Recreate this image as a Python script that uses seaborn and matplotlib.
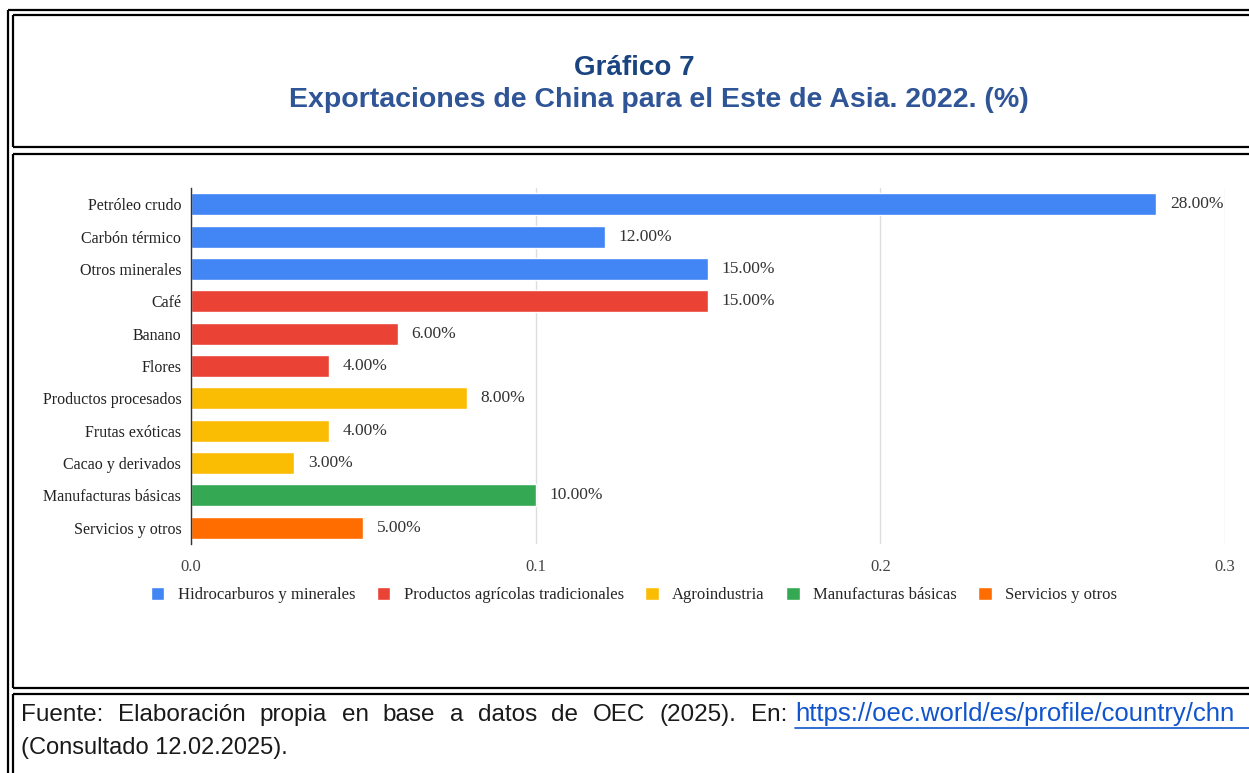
import matplotlib
matplotlib.use("Agg")
import matplotlib.pyplot as plt
from matplotlib.lines import Line2D
import seaborn as sns
import pandas as pd

# Export shares by product (fraction of total) and their groups
productos = [
    "Petróleo crudo", "Carbón térmico", "Otros minerales", "Café", "Banano",
    "Flores", "Productos procesados", "Frutas exóticas", "Cacao y derivados",
    "Manufacturas básicas", "Servicios y otros",
]
participacion = [0.28, 0.12, 0.15, 0.15, 0.06, 0.04, 0.08, 0.04, 0.03, 0.10, 0.05]
grupos = [
    "Hidrocarburos y minerales", "Hidrocarburos y minerales", "Hidrocarburos y minerales",
    "Productos agrícolas tradicionales", "Productos agrícolas tradicionales",
    "Productos agrícolas tradicionales",
    "Agroindustria", "Agroindustria", "Agroindustria",
    "Manufacturas básicas", "Servicios y otros",
]
orden_grupos = [
    "Hidrocarburos y minerales", "Productos agrícolas tradicionales",
    "Agroindustria", "Manufacturas básicas", "Servicios y otros",
]
colores = ["#4285F4", "#EA4335", "#FBBC04", "#34A853", "#FF6D01"]
ticks_x = [0.0, 0.1, 0.2, 0.3]
etiquetas_x = ["0.0", "0.1", "0.2", "0.3"]

titulo_1 = "Gráfico 7"
titulo_2 = "Exportaciones de China para el Este de Asia. 2022. (%)"
fuente = "Fuente:  Elaboración propia en base a datos de OEC (2025). En:"
enlace = "https://oec.world/es/profile/country/chn"
consulta = "(Consultado 12.02.2025)."

df = pd.DataFrame({"producto": productos, "valor": participacion, "grupo": grupos})

sns.set_theme(style="white")
plt.rcParams["font.family"] = ["Liberation Serif", "DejaVu Serif"]

W, H = 1249, 773
fig = plt.figure(figsize=(W / 100, H / 100), dpi=100)


def fx(px):
    return px / W


def fy(py):
    return 1 - py / H


ax = fig.add_axes([fx(191), fy(544), fx(1225) - fx(191), fy(188) - fy(544)])

sns.barplot(
    data=df, y="producto", x="valor", hue="grupo", order=productos,
    hue_order=orden_grupos, palette=dict(zip(orden_grupos, colores)),
    dodge=False, width=0.68, ax=ax, saturation=1,
)

ax.set_xlim(0, 0.3)
ax.set_xticks(ticks_x)
ax.set_xticklabels(etiquetas_x, fontsize=12, color="#444444")
ax.tick_params(axis="x", length=0, pad=11)
ax.tick_params(axis="y", length=0, pad=7, labelsize=11.5, labelcolor="#222222")
ax.set_xlabel("")
ax.set_ylabel("")
ax.grid(axis="x", color="#DDDDDD", linewidth=1)
ax.set_axisbelow(True)
for s in ["top", "right", "bottom"]:
    ax.spines[s].set_visible(False)
ax.spines["left"].set_color("#333333")
ax.spines["left"].set_linewidth(1)

# value labels next to each bar
for cont in ax.containers:
    vals = cont.datavalues
    ax.bar_label(cont, labels=[f"{v * 100:.2f}%" if v == v else "" for v in vals],
                 padding=10, fontsize=12.5, color="#333333")

sns.move_legend(
    ax, "center", bbox_to_anchor=(fx(634), fy(595)), bbox_transform=fig.transFigure,
    ncol=5, frameon=False, title=None, fontsize=12, handlelength=0.8,
    handleheight=0.8, handletextpad=0.8, columnspacing=1.3,
)

# title block
fig.text(fx(634), fy(75), titulo_1, ha="center", va="baseline",
         fontsize=20, fontweight="bold", color="#1A4480", family="Liberation Sans")
fig.text(fx(659), fy(107), titulo_2, ha="center", va="baseline", fontsize=20.5,
         fontweight="bold", color="#2F5597", family="Liberation Sans")

# source note, first line justified between the frame and the link
renderer = fig.canvas.get_renderer()
palabras = fuente.split()
x_ini, x_fin = 21, 787
piezas = [fig.text(0, 0, p, fontsize=17.5, family="Liberation Sans", color="#1A1A1A",
                   va="baseline") for p in palabras]
anchos = [t.get_window_extent(renderer).width for t in piezas]
hueco = (x_fin - x_ini - sum(anchos)) / (len(palabras) - 1)
x = x_ini
for t, w in zip(piezas, anchos):
    t.set_position((fx(x), fy(721)))
    x += w + hueco
fig.text(fx(795), fy(721), enlace, ha="left", va="baseline", fontsize=18.5,
         color="#1155CC", family="Liberation Sans")
fig.add_artist(Line2D([fx(795), 1], [fy(728), fy(728)], color="#1155CC", lw=1.2))
fig.text(fx(21), fy(754), consulta, ha="left", va="baseline", fontsize=17,
         color="#1A1A1A", family="Liberation Sans")

# document frame lines
lw = 1.6
segs = [
    ([8, 8], [10, 773]),
    ([8, W], [10, 10]),
    ([13, 13], [15, 147]),
    ([13, W], [15, 15]),
    ([13, W], [147, 147]),
    ([13, 13], [154, 688]),
    ([13, W], [154, 154]),
    ([13, W], [688, 688]),
    ([13, 13], [694, 773]),
    ([13, W], [694, 694]),
]
for xs, ys in segs:
    fig.add_artist(Line2D([fx(v) for v in xs], [fy(v) for v in ys],
                          color="black", lw=lw, solid_capstyle="butt"))

fig.savefig("out.png", dpi=100, facecolor="white")
